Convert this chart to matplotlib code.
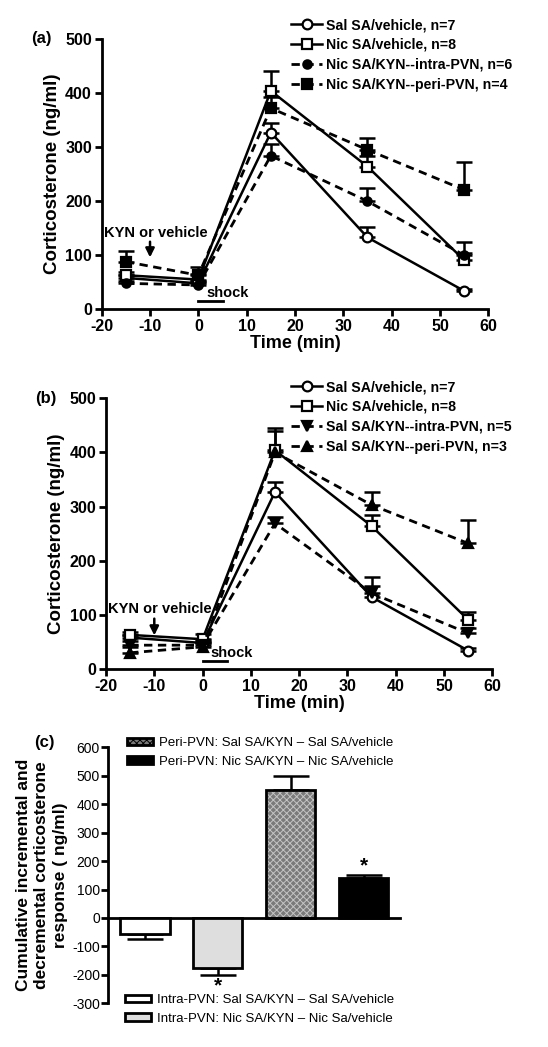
import matplotlib
matplotlib.use("Agg")
import matplotlib.pyplot as plt
import numpy as np
from matplotlib.patches import Patch

plt.rcParams['font.family'] = ['Liberation Sans', 'DejaVu Sans']
plt.rcParams['axes.unicode_minus'] = False
plt.rcParams['hatch.linewidth'] = 0.7

# ---------------- data ----------------
time = [-15, 0, 15, 35, 55]

sal_veh = [58, 48, 327, 133, 34]
sal_veh_err = [5, 5, 18, 20, 4]
nic_veh = [63, 55, 404, 264, 91]
nic_veh_err = [6, 10, 36, 20, 14]

# panel (a)
nic_kyn_intra = [48, 45, 284, 200, 100]
nic_kyn_intra_err = [5, 5, 21, 25, 24]
nic_kyn_peri = [88, 63, 372, 295, 221]
nic_kyn_peri_err = [20, 15, 20, 21, 51]

# panel (b)
sal_kyn_intra = [44, 44, 269, 140, 66]
sal_kyn_intra_err = [8, 6, 12, 30, 10]
sal_kyn_peri = [30, 41, 400, 303, 232]
sal_kyn_peri_err = [10, 8, 45, 24, 43]

# panel (c)
bar_labels = ["Intra-PVN: Sal SA/KYN \u2013 Sal SA/vehicle",
              "Intra-PVN: Nic SA/KYN \u2013 Nic Sa/vehicle",
              "Peri-PVN: Sal SA/KYN \u2013 Sal SA/vehicle",
              "Peri-PVN: Nic SA/KYN \u2013 Nic SA/vehicle"]
bar_values = [-58, -177, 449, 140]
bar_err = [16, 24, 50, 12]
bar_sig = [False, True, False, True]

xticks_ab = [-20, -10, 0, 10, 20, 30, 40, 50, 60]
yticks_ab = [0, 100, 200, 300, 400, 500]
yticks_c = [-300, -200, -100, 0, 100, 200, 300, 400, 500, 600]

# ---------------- figure ----------------
fig = plt.figure(figsize=(5.48, 10.47), dpi=100)
W, H = 548.0, 1047.0

def axes_px(l, t, r, b):
    return fig.add_axes([l / W, 1 - b / H, (r - l) / W, (b - t) / H])

ax_a = axes_px(101.7, 39, 488.3, 309.3)
ax_b = axes_px(106, 398.3, 492.3, 669)
ax_c = axes_px(108.3, 747.3, 400, 1003.3)

def series(ax, y, err, marker, face, ls, label, ms=7):
    ax.errorbar(time, y, yerr=[np.zeros(len(err)), err], fmt='none',
                ecolor='black', elinewidth=1.8, capsize=6, capthick=1.8, zorder=2)
    ax.plot(time, y, color='black', linestyle=ls, linewidth=1.8 if ls == '-' else 2.0,
            marker=marker, markersize=ms, markerfacecolor=face,
            markeredgecolor='black', markeredgewidth=1.6, label=label, zorder=3,
            dashes=(3, 2) if ls == '--' else (None, None))

def style_ab(ax, tag, kyn_xy):
    ax.set_xlim(-20, 60)
    ax.set_ylim(0, 500)
    ax.set_xticks(xticks_ab)
    ax.set_yticks(yticks_ab)
    for s in ['top', 'right']:
        ax.spines[s].set_visible(False)
    for s in ['left', 'bottom']:
        ax.spines[s].set_linewidth(2.0)
    ax.tick_params(direction='out', length=5, width=2, labelsize=11.5, pad=2)
    for lab in ax.get_xticklabels() + ax.get_yticklabels():
        lab.set_fontweight('bold')
    ax.set_xlabel('Time (min)', fontsize=13, fontweight='bold', labelpad=1)
    ax.set_ylabel('Corticosterone (ng/ml)', fontsize=13.5, fontweight='bold', labelpad=3)
    ax.text(-0.155, 1.0, tag, transform=ax.transAxes, fontsize=12,
            fontweight='bold', ha='center', va='center')
    ax.annotate('', xy=(-10, kyn_xy[1]), xytext=(-10, kyn_xy[0]),
                arrowprops=dict(arrowstyle='-|>', color='black', lw=1.8,
                                mutation_scale=13, shrinkA=0, shrinkB=0))
    ax.text(-8.8, kyn_xy[0] + 4, 'KYN or vehicle', fontsize=10.5, fontweight='bold',
            ha='center', va='bottom')
    ax.plot([0, 5], [15, 15], color='black', lw=2)
    ax.text(1.6, 17, 'shock', fontsize=10.5, fontweight='bold', ha='left', va='bottom')

# panel (a)
series(ax_a, sal_veh, sal_veh_err, 'o', 'white', '-', 'Sal SA/vehicle, n=7')
series(ax_a, nic_veh, nic_veh_err, 's', 'white', '-', 'Nic SA/vehicle, n=8')
series(ax_a, nic_kyn_intra, nic_kyn_intra_err, 'o', 'black', '--',
       'Nic SA/KYN--intra-PVN, n=6', ms=6)
series(ax_a, nic_kyn_peri, nic_kyn_peri_err, 's', 'black', '--',
       'Nic SA/KYN--peri-PVN, n=4', ms=6.5)
style_ab(ax_a, '(a)', kyn_xy=(125, 96))

# panel (b)
series(ax_b, sal_veh, sal_veh_err, 'o', 'white', '-', 'Sal SA/vehicle, n=7')
series(ax_b, nic_veh, nic_veh_err, 's', 'white', '-', 'Nic SA/vehicle, n=8')
series(ax_b, sal_kyn_intra, sal_kyn_intra_err, 'v', 'black', '--',
       'Sal SA/KYN--intra-PVN, n=5', ms=7.5)
series(ax_b, sal_kyn_peri, sal_kyn_peri_err, '^', 'black', '--',
       'Sal SA/KYN--peri-PVN, n=3', ms=7.5)
style_ab(ax_b, '(b)', kyn_xy=(93, 62))

for ax, top in [(ax_a, 18), (ax_b, 380)]:
    ax.legend(loc='upper left', bbox_to_anchor=(291 / W, 1 - top / H),
              bbox_transform=fig.transFigure, frameon=False, borderpad=0,
              handletextpad=0.25, handlelength=2.2, labelspacing=0.42,
              borderaxespad=0, prop={'weight': 'bold', 'size': 10.2})

# panel (c)
xc = np.arange(len(bar_values))
bw = 0.68
faces = ['white', '#dedede', '#7a7a7a', 'black']
hatches = [None, None, 'xxxxx', None]
hatch_cols = [None, None, '#c4c4c4', None]
for i in range(len(bar_values)):
    ax_c.errorbar(xc[i], bar_values[i],
                  yerr=[[0], [bar_err[i]]] if bar_values[i] > 0 else [[bar_err[i]], [0]],
                  fmt='none', ecolor='black', elinewidth=1.8, capsize=13,
                  capthick=1.8, zorder=1)
    if hatches[i]:
        ax_c.bar(xc[i], bar_values[i], width=bw, color=faces[i], hatch=hatches[i],
                 edgecolor=hatch_cols[i], linewidth=0, zorder=2)
    ax_c.bar(xc[i], bar_values[i], width=bw, facecolor='none' if hatches[i] else faces[i],
             edgecolor='black', linewidth=2.0, zorder=3, label=bar_labels[i])

for i in range(len(bar_values)):
    if bar_sig[i]:
        if bar_values[i] > 0:
            ax_c.text(xc[i], bar_values[i] + bar_err[i] - 2, '*', ha='center',
                      va='bottom', fontsize=15, fontweight='bold')
        else:
            ax_c.text(xc[i], bar_values[i] - bar_err[i] - 3, '*', ha='center',
                      va='top', fontsize=15, fontweight='bold')

proxies = []
for i in range(4):
    proxies.append(Patch(facecolor=faces[i], edgecolor='black', linewidth=2.0,
                         hatch=hatches[i]))

ax_c.set_xlim(-0.5, 3.5)
ax_c.set_ylim(-300, 600)
ax_c.set_yticks(yticks_c)
ax_c.set_xticks([])
ax_c.spines['top'].set_visible(False)
ax_c.spines['right'].set_visible(False)
ax_c.spines['bottom'].set_position(('data', 0))
ax_c.spines['bottom'].set_linewidth(2.0)
ax_c.spines['left'].set_linewidth(2.0)
ax_c.tick_params(axis='y', direction='out', length=5, width=2, labelsize=10, pad=1)
ax_c.set_ylabel('Cumulative incremental and\ndecremental corticosterone\nresponse ( ng/ml)',
                fontsize=12.5, fontweight='bold', labelpad=3, linespacing=1.3)
ax_c.text(-0.22, 1.02, '(c)', transform=ax_c.transAxes, fontsize=12,
          fontweight='bold', ha='center', va='center')

leg1 = ax_c.legend([proxies[2], proxies[3]], [bar_labels[2], bar_labels[3]],
                   loc='upper left', bbox_to_anchor=(127 / W, 1 - 737 / H),
                   bbox_transform=fig.transFigure, frameon=False, borderpad=0,
                   handletextpad=0.4, handlelength=2.0, handleheight=0.5,
                   labelspacing=0.5, borderaxespad=0, prop={'size': 9.5})
ax_c.add_artist(leg1)
ax_c.legend([proxies[0], proxies[1]], [bar_labels[0], bar_labels[1]],
            loc='upper left', bbox_to_anchor=(125 / W, 1 - 994 / H),
            bbox_transform=fig.transFigure, frameon=False, borderpad=0,
            handletextpad=0.4, handlelength=2.0, handleheight=0.5,
            labelspacing=0.5, borderaxespad=0, prop={'size': 9.5})

fig.savefig('out.png', dpi=100)
